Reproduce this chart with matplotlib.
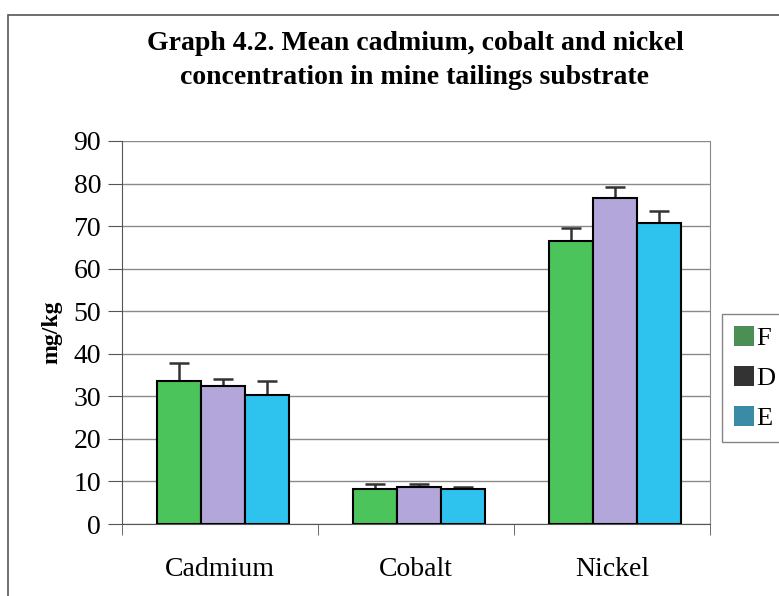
import matplotlib
matplotlib.use("Agg")
import matplotlib.pyplot as plt
import numpy as np
from matplotlib.patches import Rectangle, Patch

categories = ["Cadmium", "Cobalt", "Nickel"]
series = ["F", "D", "E"]
F_vals = [33.7, 8.2, 66.5]
D_vals = [32.4, 8.7, 76.6]
E_vals = [30.3, 8.2, 70.7]
F_err = [4.1, 1.2, 3.0]
D_err = [1.6, 0.6, 2.6]
E_err = [3.3, 0.5, 2.8]
yticks = [0, 10, 20, 30, 40, 50, 60, 70, 80, 90]

bar_colors = ["#4cc45c", "#b3a6da", "#2ec3ef"]
legend_colors = ["#4b8f55", "#333333", "#3a8ca6"]

plt.rcParams['font.family'] = ['Liberation Serif', 'DejaVu Serif']

W, H = 779, 596
fig = plt.figure(figsize=(W/100, H/100), dpi=100)
ax = fig.add_axes([122/W, 1-524/H, 588/W, 383/H])

x = np.arange(len(categories))
bw = 0.225
vals = [F_vals, D_vals, E_vals]
errs = [F_err, D_err, E_err]
for i, (v, e, c) in enumerate(zip(vals, errs, bar_colors)):
    pos = x + (i - 1) * bw + 0.015
    ax.bar(pos, v, bw, color=c, edgecolor="black", linewidth=1.5, zorder=3)
    ax.errorbar(pos, v, yerr=[np.zeros(len(e)), e], fmt="none", ecolor="#333333",
                elinewidth=1.8, capsize=7, capthick=1.8, zorder=2)

ax.set_xlim(-0.5, 2.5)
ax.set_ylim(0, 90)
ax.set_yticks(yticks)
ax.set_yticklabels([str(t) for t in yticks], fontsize=20)
ax.set_xticks(x)
ax.set_xticklabels(categories, fontsize=20)
ax.tick_params(axis="x", length=0, pad=24)
ax.set_xticks([-0.5, 0.5, 1.5, 2.5], minor=True)
ax.tick_params(axis="x", which="minor", length=8, direction="out", color="#555555")
ax.tick_params(axis="y", length=10, direction="out", color="#555555", pad=5)
ax.grid(axis="y", color="#8a8a8a", linewidth=1.0, zorder=0)
ax.spines["top"].set_visible(False)
ax.spines["right"].set_color("#8a8a8a")
ax.spines["left"].set_color("#555555")
ax.spines["bottom"].set_color("#555555")
ax.set_ylabel("mg/kg", fontsize=17, fontweight="bold", labelpad=8)

fig.text(415/W, 1-43/H, "Graph 4.2. Mean cadmium, cobalt and nickel",
         ha="center", va="center", fontsize=20, fontweight="bold")
fig.text(415/W, 1-78/H, "concentration in mine tailings substrate",
         ha="center", va="center", fontsize=20, fontweight="bold")

# outer frame
fig.patches.append(Rectangle((8/W, -0.1), 1.2, 1-15/H+0.1, transform=fig.transFigure,
                             fill=False, edgecolor="#555555", linewidth=1.2))

handles = [Patch(facecolor=c, edgecolor="none") for c in legend_colors]
leg = fig.legend(handles, series, loc="upper left", bbox_to_anchor=(722/W, 1-314/H),
                 fontsize=19, frameon=True, fancybox=False, edgecolor="#666666",
                 handlelength=0.75, handleheight=0.8, handletextpad=0.1,
                 labelspacing=0.6, borderpad=0.45, borderaxespad=0)
leg.get_frame().set_linewidth(1.0)

fig.savefig("out.png", dpi=100)
